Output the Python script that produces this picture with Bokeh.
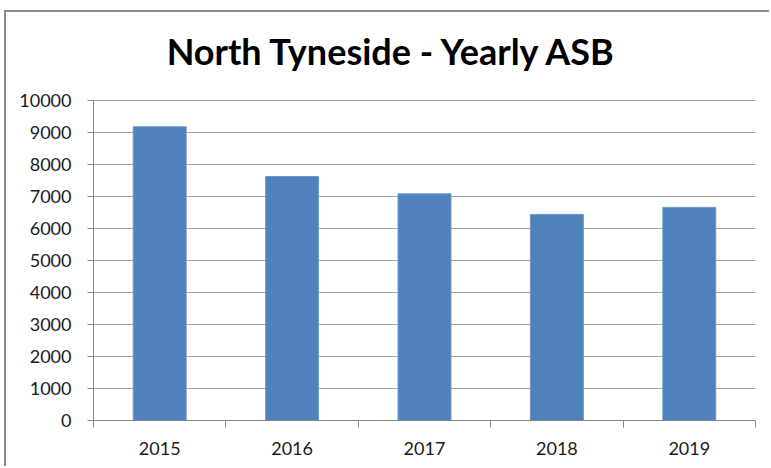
from bokeh.plotting import figure
from bokeh.models import FixedTicker, Range1d, Label
from bokeh.embed import file_html
from bokeh.resources import INLINE

years = ["2015", "2016", "2017", "2018", "2019"]
asb = [9180, 7625, 7085, 6440, 6660]
y_ticks = [0, 1000, 2000, 3000, 4000, 5000, 6000, 7000, 8000, 9000, 10000]
title_text = "North Tyneside - Yearly ASB"

xs = [i + 0.5 for i in range(len(years))]
bounds = list(range(len(years) + 1))

W, H = 765, 456
# frame is extended upward (to 12500) so the title can sit inside it;
# the axis and grid are bounded to 0..10000
p = figure(width=W, height=H, output_backend="svg", toolbar_location=None,
           x_range=Range1d(0, len(years)), y_range=Range1d(0, 12500),
           min_border_left=87, min_border_right=16, min_border_top=8, min_border_bottom=48)
p.styles = {"margin-left": "4px", "margin-top": "10px",
            "border-left": "2px solid #8c8c8c", "border-top": "2px solid #8c8c8c"}

# screen units here are relative to the plot frame (y upward from frame bottom)
title = Label(x=299, y=370, x_units="screen", y_units="screen", text=title_text,
              text_align="center", text_baseline="middle",
              text_font="Lato", text_font_size="36px", text_font_style="bold",
              text_color="#000000")
p.add_layout(title)

p.vbar(x=xs, top=asb, width=0.4, fill_color="#4f81bd", line_color="#6d97c9", line_width=1)

p.outline_line_color = None
p.background_fill_color = "white"
p.border_fill_color = "white"

p.xgrid.grid_line_color = None
p.ygrid.grid_line_color = "#a6a6a6"
p.ygrid.grid_line_width = 1
p.ygrid.ticker = FixedTicker(ticks=y_ticks)

xa = p.xaxis[0]
xa.ticker = FixedTicker(ticks=xs, minor_ticks=bounds)
xa.major_label_overrides = {x: y for x, y in zip(xs, years)}
xa.major_tick_line_color = None
xa.minor_tick_line_color = "#868686"
xa.minor_tick_out = 7
xa.minor_tick_in = 0
xa.axis_line_color = "#868686"
xa.major_label_text_font = "Lato"
xa.major_label_text_font_size = "18px"
xa.major_label_text_color = "#1a1a1a"
xa.major_label_standoff = 14

ya = p.yaxis[0]
ya.ticker = FixedTicker(ticks=y_ticks)
ya.bounds = (0, 10000)
ya.minor_tick_line_color = None
ya.major_tick_out = 6
ya.major_tick_in = 0
ya.major_tick_line_color = "#868686"
ya.axis_line_color = "#868686"
ya.major_label_text_font = "Lato"
ya.major_label_text_font_size = "18px"
ya.major_label_text_color = "#1a1a1a"
ya.major_label_standoff = 16

open("out.html", "w").write(file_html(p, INLINE))
